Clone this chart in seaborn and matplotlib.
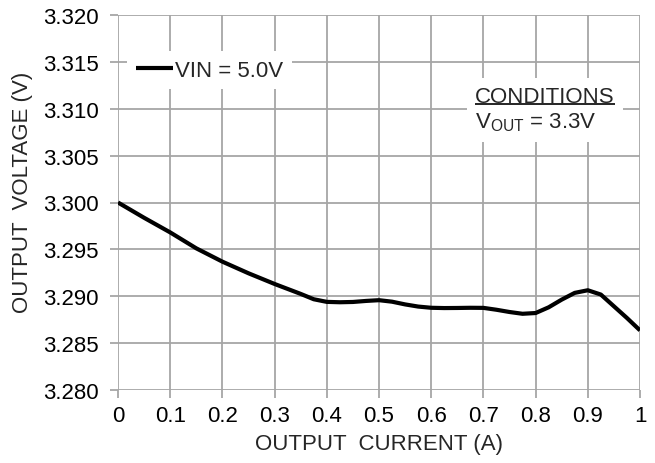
import matplotlib
matplotlib.use("Agg")
import matplotlib.pyplot as plt
import seaborn as sns
import pandas as pd
from matplotlib.ticker import FixedLocator

# Data
current_a = [0.0, 0.05, 0.10, 0.15, 0.20, 0.25, 0.30, 0.35, 0.375, 0.40,
             0.425, 0.45, 0.475, 0.50, 0.525, 0.55, 0.575, 0.60, 0.625, 0.65,
             0.675, 0.70, 0.725, 0.75, 0.775, 0.80, 0.825, 0.85, 0.875, 0.90,
             0.925, 0.95, 0.975, 1.00]
voltage_v = [3.3000, 3.29837, 3.29681, 3.29511, 3.29369, 3.29245, 3.29131,
             3.29025, 3.28968, 3.28940, 3.28936, 3.28939, 3.28950, 3.28958,
             3.28942, 3.28913, 3.28890, 3.28877, 3.28874, 3.28875, 3.28877,
             3.28876, 3.28856, 3.28832, 3.28813, 3.28821, 3.28882, 3.28964,
             3.29036, 3.29064, 3.29018, 3.28893, 3.28768, 3.28636]
series_label = "VIN = 5.0V"
x_ticks = [0, 0.1, 0.2, 0.3, 0.4, 0.5, 0.6, 0.7, 0.8, 0.9, 1.0]
x_tick_labels = ["0", "0.1", "0.2", "0.3", "0.4", "0.5", "0.6", "0.7", "0.8", "0.9", "1"]
y_ticks = [3.280, 3.285, 3.290, 3.295, 3.300, 3.305, 3.310, 3.315, 3.320]
y_tick_labels = ["3.280", "3.285", "3.290", "3.295", "3.300", "3.305", "3.310", "3.315", "3.320"]

df = pd.DataFrame({"I": current_a, "V": voltage_v, "s": series_label})

sns.set_style("white")
plt.rcParams["font.family"] = ["Liberation Sans", "DejaVu Sans"]
plt.rcParams["mathtext.default"] = "regular"

FS = 16
fig = plt.figure(figsize=(6.55, 4.64), dpi=100)
ax = fig.add_axes([118/655, 1-391/464, 522/655, 375/464])

sns.lineplot(data=df, x="I", y="V", hue="s", palette=["black"], lw=3,
             ax=ax, legend=True, solid_joinstyle="round", solid_capstyle="butt")

ax.set_xlim(0, 1)
ax.set_ylim(3.280, 3.320)
ax.xaxis.set_major_locator(FixedLocator(x_ticks))
ax.set_xticklabels(x_tick_labels)
ax.yaxis.set_major_locator(FixedLocator(y_ticks))
ax.set_yticklabels(y_tick_labels)

gc = "#a6a6a6"
ax.set_axisbelow(True)
ax.grid(True, color=gc, lw=1.3)
for s in ax.spines.values():
    s.set_visible(False)
ax.tick_params(axis="both", which="major", length=6, width=1.3, color=gc,
               labelsize=FS, labelcolor="black", direction="out",
               bottom=True, left=True)
ax.tick_params(axis="x", pad=5)
ax.tick_params(axis="y", pad=8)

ax.set_xlabel("OUTPUT  CURRENT (A)", fontsize=FS, labelpad=5)
ax.set_ylabel("OUTPUT  VOLTAGE (V)", fontsize=FS)
ax.yaxis.set_label_coords(-0.162, 0.53)

leg = ax.legend(loc="upper left", bbox_to_anchor=(0.018, 0.905), frameon=True,
                fontsize=FS, handlelength=1.65, handletextpad=0.1,
                borderaxespad=0.0, borderpad=0.4, fancybox=False)
leg.get_frame().set_facecolor("white")
leg.get_frame().set_edgecolor("none")
leg.get_frame().set_alpha(1)
leg.set_title(None)
for h in leg.get_lines():
    h.set_linewidth(3)

ax.text(0.684, 0.81, "CONDITIONS\nV$_{OUT}$ = 3.3V", transform=ax.transAxes,
        fontsize=FS, va="top", ha="left", linespacing=1.2,
        bbox=dict(facecolor="white", edgecolor="none", pad=6))
ax.plot([0.684, 0.952], [0.764, 0.764], transform=ax.transAxes, color="black",
        lw=1.2, solid_capstyle="butt", zorder=5)

fig.savefig("out.png", dpi=100)
